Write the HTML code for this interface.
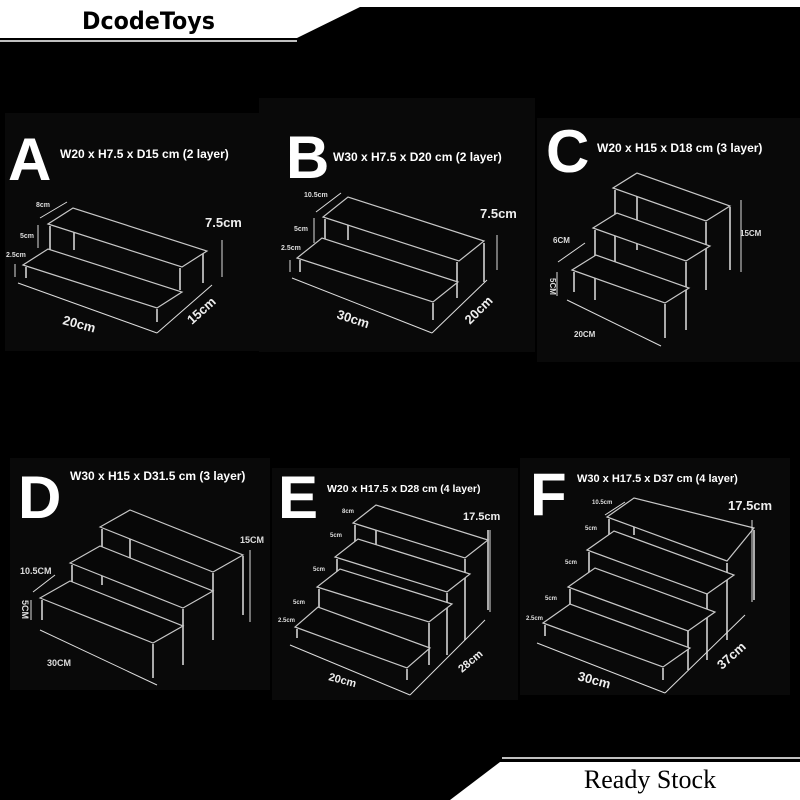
<!DOCTYPE html>
<html><head><meta charset="utf-8"><style>
html,body{margin:0;padding:0;background:#000;}
svg{display:block;}
text{font-family:"Liberation Sans",sans-serif;fill:#fff;}
.big{font-weight:bold;font-size:60px;}
.lab{font-weight:bold;font-size:12px;}
.sm{font-size:7px;fill:#ddd;font-weight:bold;}
.md{font-size:13px;fill:#eee;font-weight:bold;}
.sh{fill:#070707;stroke:#c8c8c8;stroke-width:1.2;}
.leg{stroke:#aaa;stroke-width:2;}
.dim{stroke:#ddd;stroke-width:1;}
</style></head><body>
<svg width="800" height="800" viewBox="0 0 800 800" xmlns="http://www.w3.org/2000/svg">
<rect width="800" height="800" fill="#000"/>
<polygon points="0,0 800,0 800,7 360,7 297,38 0,38" fill="#fff"/>
<line x1="0" y1="41" x2="297" y2="41" stroke="#fff" stroke-width="1.5"/>
<text x="82" y="29" textLength="133" lengthAdjust="spacingAndGlyphs" style="font-family:'DejaVu Sans',sans-serif;font-weight:bold;font-size:24px;fill:#000">DcodeToys</text>
<polygon points="450,800 500,762 800,762 800,800" fill="#fff"/>
<line x1="502" y1="758" x2="800" y2="758" stroke="#fff" stroke-width="1.5"/>
<text x="650" y="788" text-anchor="middle" style="font-family:'Liberation Serif',serif;font-size:26px;fill:#000">Ready Stock</text>

<rect x="5" y="113" width="255" height="238" fill="#090909"/>
<rect x="259" y="98" width="276" height="254" fill="#090909"/>
<rect x="537" y="118" width="263" height="244" fill="#090909"/>
<rect x="10" y="458" width="260" height="232" fill="#090909"/>
<rect x="272" y="468" width="246" height="232" fill="#090909"/>
<rect x="520" y="458" width="270" height="237" fill="#090909"/>

<text x="8" y="180" class="big">A</text>
<text x="60" y="158" class="lab">W20 x H7.5 x D15 cm (2 layer)</text>
<line class="leg" x1="74" y1="210" x2="74" y2="250"/><line class="leg" x1="203" y1="252" x2="203" y2="283"/>
<line class="leg" x1="50" y1="226" x2="50" y2="262"/>
<polygon class="sh" points="48,224 182,267 207,251 73,208"/>
<line class="leg" x1="180" y1="268" x2="180" y2="290"/>
<polygon class="sh" points="23,265 157,308 182,292 48,249"/>
<line class="leg" x1="26" y1="267" x2="26" y2="278"/><line class="leg" x1="157" y1="309" x2="157" y2="322"/>
<line class="dim" x1="18" y1="283" x2="157" y2="333"/><line class="dim" x1="157" y1="333" x2="212" y2="285"/>
<line class="dim" x1="222" y1="240" x2="222" y2="277"/>
<line class="dim" x1="40" y1="218" x2="67" y2="202"/><line class="dim" x1="38" y1="225" x2="38" y2="248"/><line class="dim" x1="15" y1="264" x2="15" y2="277"/>
<text x="36" y="207" class="sm">8cm</text><text x="20" y="238" class="sm">5cm</text><text x="6" y="257" class="sm">2.5cm</text>
<text x="205" y="227" class="md">7.5cm</text>
<text x="62" y="324" class="md" transform="rotate(15 62 324)">20cm</text>
<text x="192" y="325" class="md" transform="rotate(-42 192 325)">15cm</text>

<text x="286" y="178" class="big">B</text>
<text x="333" y="161" class="lab">W30 x H7.5 x D20 cm (2 layer)</text>
<line class="leg" x1="348" y1="199" x2="348" y2="240"/><line class="leg" x1="484" y1="243" x2="484" y2="282"/>
<line class="leg" x1="325" y1="219" x2="325" y2="258"/>
<polygon class="sh" points="323,217 459,261 484,241 348,197"/>
<line class="leg" x1="457" y1="262" x2="457" y2="298"/>
<polygon class="sh" points="297,258 433,302 458,282 322,238"/>
<line class="leg" x1="300" y1="260" x2="300" y2="272"/><line class="leg" x1="433" y1="303" x2="433" y2="320"/>
<line class="dim" x1="292" y1="278" x2="432" y2="333"/><line class="dim" x1="432" y1="333" x2="487" y2="280"/>
<line class="dim" x1="497" y1="235" x2="497" y2="270"/>
<line class="dim" x1="316" y1="212" x2="341" y2="193"/><line class="dim" x1="314" y1="218" x2="314" y2="243"/><line class="dim" x1="290" y1="260" x2="290" y2="272"/>
<text x="304" y="197" class="sm">10.5cm</text><text x="294" y="231" class="sm">5cm</text><text x="281" y="250" class="sm">2.5cm</text>
<text x="480" y="218" class="md">7.5cm</text>
<text x="336" y="318" class="md" transform="rotate(18 336 318)">30cm</text>
<text x="470" y="325" class="md" transform="rotate(-45 470 325)">20cm</text>

<text x="546" y="172" class="big">C</text>
<text x="597" y="152" class="lab">W20 x H15 x D18 cm (3 layer)</text>
<line class="leg" x1="637" y1="175" x2="637" y2="250"/><line class="leg" x1="730" y1="207" x2="730" y2="270"/>
<line class="leg" x1="615" y1="190" x2="615" y2="270"/><line class="leg" x1="706" y1="222" x2="706" y2="290"/>
<polygon class="sh" points="613,188 706,221 730,206 637,173"/>
<line class="leg" x1="595" y1="230" x2="595" y2="300"/><line class="leg" x1="686" y1="262" x2="686" y2="330"/>
<polygon class="sh" points="593,228 686,261 710,246 617,213"/>
<line class="leg" x1="574" y1="272" x2="574" y2="292"/><line class="leg" x1="665" y1="304" x2="665" y2="338"/>
<polygon class="sh" points="572,270 665,303 689,288 596,255"/>
<line class="dim" x1="567" y1="300" x2="661" y2="346"/><line class="dim" x1="741" y1="200" x2="741" y2="272"/>
<line class="dim" x1="558" y1="262" x2="585" y2="243"/><line class="dim" x1="557" y1="272" x2="557" y2="296"/>
<text x="553" y="243" class="sm" style="font-size:8px">6CM</text>
<text x="550" y="278" class="sm" style="font-size:8px" transform="rotate(90 550 278)">5CM</text>
<text x="574" y="337" class="sm" style="font-size:8px">20CM</text>
<text x="740" y="236" class="sm" style="font-size:8px">15CM</text>

<text x="18" y="518" class="big">D</text>
<text x="70" y="480" class="lab">W30 x H15 x D31.5 cm (3 layer)</text>
<line class="leg" x1="130" y1="512" x2="130" y2="585"/><line class="leg" x1="243" y1="556" x2="243" y2="615"/>
<line class="leg" x1="102" y1="529" x2="102" y2="585"/><line class="leg" x1="213" y1="573" x2="213" y2="640"/>
<polygon class="sh" points="100,527 213,572 243,555 130,510"/>
<line class="leg" x1="72" y1="565" x2="72" y2="600"/><line class="leg" x1="183" y1="609" x2="183" y2="665"/>
<polygon class="sh" points="70,563 183,608 213,591 100,546"/>
<line class="leg" x1="42" y1="600" x2="42" y2="620"/><line class="leg" x1="153" y1="644" x2="153" y2="678"/>
<polygon class="sh" points="40,598 153,643 183,626 70,581"/>
<line class="dim" x1="40" y1="630" x2="157" y2="685"/><line class="dim" x1="250" y1="550" x2="250" y2="622"/>
<line class="dim" x1="33" y1="592" x2="55" y2="575"/><line class="dim" x1="31" y1="600" x2="31" y2="620"/>
<text x="20" y="574" class="sm" style="font-size:9px">10.5CM</text>
<text x="22" y="600" class="sm" style="font-size:9px" transform="rotate(90 22 600)">5CM</text>
<text x="47" y="666" class="sm" style="font-size:9px">30CM</text>
<text x="240" y="543" class="sm" style="font-size:9px">15CM</text>

<text x="278" y="518" class="big">E</text>
<text x="327" y="492" class="lab" style="font-size:10.5px">W20 x H17.5 x D28 cm (4 layer)</text>
<line class="leg" x1="376" y1="507" x2="376" y2="545"/><line class="leg" x1="488" y1="530" x2="488" y2="610"/>
<line class="leg" x1="355" y1="525" x2="355" y2="560"/><line class="leg" x1="465" y1="559" x2="465" y2="640"/>
<polygon class="sh" points="353,523 465,558 488,540 376,505"/>
<line class="leg" x1="337" y1="559" x2="337" y2="590"/><line class="leg" x1="447" y1="593" x2="447" y2="655"/>
<polygon class="sh" points="335,557 447,592 470,574 358,539"/>
<line class="leg" x1="319" y1="589" x2="319" y2="628"/><line class="leg" x1="429" y1="623" x2="429" y2="665"/>
<polygon class="sh" points="317,587 429,622 452,604 340,569"/>
<line class="leg" x1="297" y1="629" x2="297" y2="638"/><line class="leg" x1="407" y1="669" x2="407" y2="680"/>
<polygon class="sh" points="295,627 407,668 430,648 318,607"/>
<line class="dim" x1="290" y1="645" x2="410" y2="695"/><line class="dim" x1="410" y1="695" x2="485" y2="620"/>
<line class="dim" x1="490" y1="530" x2="490" y2="612"/>
<text x="342" y="513" class="sm" style="font-size:6px">8cm</text><text x="330" y="537" class="sm" style="font-size:6px">5cm</text>
<text x="313" y="571" class="sm" style="font-size:6px">5cm</text><text x="293" y="604" class="sm" style="font-size:6px">5cm</text>
<text x="278" y="622" class="sm" style="font-size:6px">2.5cm</text>
<text x="463" y="520" class="md" style="font-size:11px">17.5cm</text>
<text x="328" y="680" class="md" style="font-size:11px" transform="rotate(15 328 680)">20cm</text>
<text x="462" y="673" class="md" style="font-size:11px" transform="rotate(-40 462 673)">28cm</text>

<text x="530" y="515" class="big">F</text>
<text x="577" y="482" class="lab" style="font-size:11px">W30 x H17.5 x D37 cm (4 layer)</text>
<line class="leg" x1="634" y1="500" x2="634" y2="535"/><line class="leg" x1="754" y1="530" x2="754" y2="600"/>
<line class="leg" x1="609" y1="519" x2="609" y2="550"/><line class="leg" x1="727" y1="563" x2="727" y2="640"/>
<polygon class="sh" points="607,517 727,561 754,528 634,498"/>
<line class="leg" x1="589" y1="552" x2="589" y2="587"/><line class="leg" x1="707" y1="594" x2="707" y2="660"/>
<polygon class="sh" points="587,550 707,594 734,575 614,531"/>
<line class="leg" x1="570" y1="589" x2="570" y2="623"/><line class="leg" x1="688" y1="631" x2="688" y2="670"/>
<polygon class="sh" points="568,587 688,631 715,612 595,568"/>
<line class="leg" x1="545" y1="625" x2="545" y2="636"/><line class="leg" x1="663" y1="668" x2="663" y2="680"/>
<polygon class="sh" points="543,623 663,667 690,648 570,604"/>
<line class="dim" x1="537" y1="643" x2="665" y2="693"/><line class="dim" x1="665" y1="693" x2="745" y2="615"/>
<line class="dim" x1="752" y1="520" x2="752" y2="602"/>
<line class="dim" x1="605" y1="515" x2="625" y2="502"/>
<text x="592" y="504" class="sm" style="font-size:6px">10.5cm</text><text x="585" y="530" class="sm" style="font-size:6px">5cm</text>
<text x="565" y="564" class="sm" style="font-size:6px">5cm</text><text x="545" y="600" class="sm" style="font-size:6px">5cm</text>
<text x="526" y="620" class="sm" style="font-size:6px">2.5cm</text>
<text x="728" y="510" class="md">17.5cm</text>
<text x="577" y="680" class="md" transform="rotate(15 577 680)">30cm</text>
<text x="722" y="670" class="md" transform="rotate(-42 722 670)">37cm</text>
</svg>
</body></html>
